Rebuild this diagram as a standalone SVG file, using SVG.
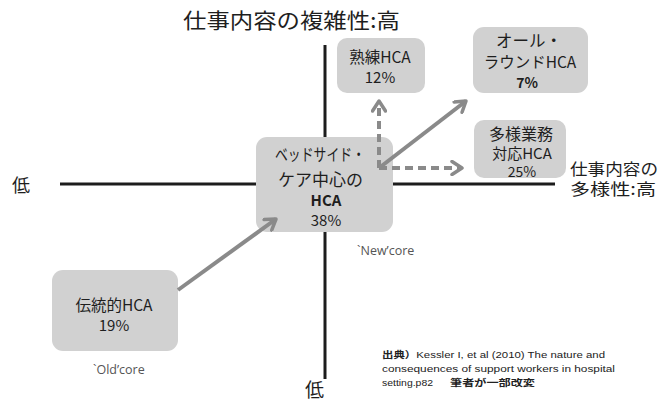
<svg xmlns="http://www.w3.org/2000/svg" width="671" height="402" viewBox="0 0 671 402">
<style>
.jp{font-family:"Noto Sans CJK JP","Noto Sans",sans-serif;fill:#1e1e1e}
.box{fill:#d1d1d1}
.axis{stroke:#1c1c1c;stroke-width:3;fill:none}
.arr{stroke:#8a8a8a;stroke-width:4;fill:none}
.dash{stroke:#8a8a8a;stroke-width:4;fill:none;stroke-dasharray:8 5}
.head{stroke:#8a8a8a;stroke-width:3.5;fill:none;stroke-linecap:round;stroke-linejoin:round}
.cite{font-family:"Liberation Sans","Noto Sans CJK JP",sans-serif;font-size:9.5px;fill:#222}
.b{font-family:"Noto Sans CJK JP",sans-serif;font-weight:bold}
.note{font-family:"Open Sans","Liberation Sans",sans-serif;font-size:12.5px;fill:#555}
</style>
<defs>
<marker id="ah" viewBox="0 0 16 16" markerWidth="16" markerHeight="16" refX="13" refY="8" orient="auto" markerUnits="userSpaceOnUse">
<path class="head" d="M3,1.5 L13,8 L3,14.5"/>
</marker>
</defs>
<rect width="671" height="402" fill="#ffffff"/>

<g id="axes">
<line class="axis" x1="60" y1="184" x2="555" y2="184"/>
<line class="axis" x1="325" y1="45" x2="325" y2="379"/>
</g>

<g id="axis-labels">
<text class="jp" x="183" y="28" font-size="21" textLength="217" lengthAdjust="spacingAndGlyphs">仕事内容の複雑性:高</text>
<text class="jp" x="12" y="192" font-size="18">低</text>
<text class="jp" x="570" y="175" font-size="16" textLength="88" lengthAdjust="spacingAndGlyphs">仕事内容の</text>
<text class="jp" x="570" y="195" font-size="16" textLength="86" lengthAdjust="spacingAndGlyphs">多様性:高</text>
<text class="jp" x="305" y="397" font-size="19">低</text>
</g>

<g id="node-center">
<rect class="box" x="256" y="137" width="137" height="95" rx="11"/>
<text class="jp" x="275" y="161" font-size="16.5" textLength="90" lengthAdjust="spacingAndGlyphs">ベッドサイド・</text>
<text class="jp" x="278" y="186" font-size="16.5" textLength="85" lengthAdjust="spacingAndGlyphs">ケア中心の</text>
<text class="jp" text-anchor="middle" x="326" y="206" font-size="15" font-weight="bold">HCA</text>
<text class="jp" text-anchor="middle" x="326" y="226" font-size="15">38%</text>
</g>

<g id="node-old">
<rect class="box" x="52" y="270" width="126" height="81" rx="11"/>
<text class="jp" text-anchor="middle" x="114" y="311" font-size="15.5">伝統的HCA</text>
<text class="jp" text-anchor="middle" x="114" y="331" font-size="15">19%</text>
</g>

<g id="node-skilled">
<rect class="box" x="337" y="38" width="88" height="55" rx="10"/>
<text class="jp" text-anchor="middle" x="380" y="63" font-size="15.5">熟練HCA</text>
<text class="jp" text-anchor="middle" x="380" y="83" font-size="15">12%</text>
</g>

<g id="node-allround">
<rect class="box" x="473" y="27" width="115" height="66" rx="11"/>
<text class="jp" text-anchor="middle" x="529" y="47" font-size="16.5">オール・</text>
<text class="jp" text-anchor="middle" x="530" y="68" font-size="15.5">ラウンドHCA</text>
<text class="jp" text-anchor="middle" x="527" y="88" font-size="14" font-weight="bold">7%</text>
</g>

<g id="node-multi">
<rect class="box" x="474" y="120" width="92" height="58" rx="10"/>
<text class="jp" text-anchor="middle" x="521" y="140" font-size="16">多様業務</text>
<text class="jp" text-anchor="middle" x="522" y="159" font-size="15">対応HCA</text>
<text class="jp" text-anchor="middle" x="522" y="177" font-size="14">25%</text>
</g>

<g id="connectors">
<line class="arr" x1="178" y1="290" x2="276" y2="219" marker-end="url(#ah)"/>
<line class="arr" x1="379" y1="168" x2="466" y2="101" marker-end="url(#ah)"/>
<line class="dash" x1="379" y1="168" x2="379" y2="101" marker-end="url(#ah)"/>
<line class="dash" x1="379" y1="168" x2="462" y2="168" marker-end="url(#ah)"/>
</g>

<g id="annotations">
<text class="note" x="357" y="255">`New’core</text>
<text class="note" x="93" y="374">`Old’core</text>
<text class="cite" x="382" y="358" textLength="223" lengthAdjust="spacingAndGlyphs"><tspan class="b">出典）</tspan>Kessler I, et al (2010) The nature and</text>
<text class="cite" x="382" y="372" textLength="233" lengthAdjust="spacingAndGlyphs">consequences of support workers in hospital</text>
<text class="cite" x="382" y="386" textLength="51" lengthAdjust="spacingAndGlyphs">setting.p82</text>
<text class="cite b" x="450" y="386" textLength="85" lengthAdjust="spacingAndGlyphs">筆者が一部改変</text>
</g>
</svg>
